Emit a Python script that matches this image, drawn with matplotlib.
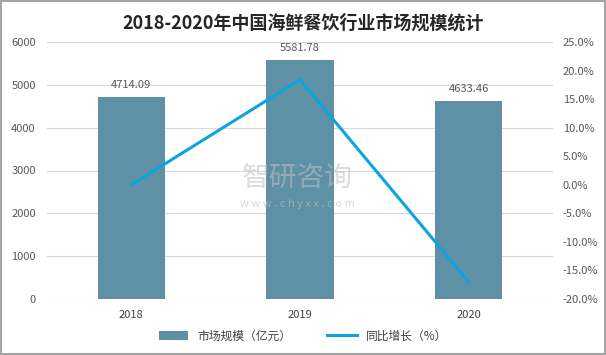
import matplotlib
matplotlib.use("Agg")
import matplotlib.pyplot as plt
from matplotlib.patches import Rectangle
from matplotlib.ticker import FuncFormatter

plt.rcParams['font.family'] = ['Noto Sans CJK SC', 'DejaVu Sans']

years = ['2018', '2019', '2020']
market = [4714.09, 5581.78, 4633.46]
growth = [0.0, 18.4, -17.0]
bar_labels = ['4714.09', '5581.78', '4633.46']

fig = plt.figure(figsize=(6.06, 3.55), dpi=100)
ax = fig.add_axes([47/606, 1-299/355, (553-47)/606, (299-42)/355])
x = list(range(len(years)))
ax.bar(x, market, width=0.40, color='#5E91A5', zorder=2, label='市场规模（亿元）')
ax.set_ylim(0, 6000)
ax.set_xlim(-0.5, 2.5)
ax.set_yticks(range(0, 6001, 1000))
ax.set_xticks(x)
ax.set_xticklabels(years)
ax.grid(axis='y', color='#D9D9D9', linewidth=0.8, zorder=0)
for s in ax.spines.values():
    s.set_visible(False)
ax.tick_params(length=0, labelsize=8, colors='#595959', pad=8)
ax.tick_params(axis='x', colors='#404040')
for xi, v, t in zip(x, market, bar_labels):
    ax.annotate(t, (xi, v), xytext=(0, 5), textcoords='offset points',
                ha='center', va='bottom', fontsize=8, color='#595959')

ax2 = ax.twinx()
ax2.plot(x, growth, color='#0AA5DE', linewidth=2.2, zorder=3, label='同比增长（%）')
ax2.set_ylim(-20, 25)
ax2.set_yticks(range(-20, 26, 5))
ax2.yaxis.set_major_formatter(FuncFormatter(lambda v, p: f'{v:.1f}%'))
for s in ax2.spines.values():
    s.set_visible(False)
ax2.tick_params(length=0, labelsize=8, colors='#595959', pad=7)

fig.text(0.5, 0.935, '2018-2020年中国海鲜餐饮行业市场规模统计', ha='center', va='center',
         fontsize=13, fontweight='bold', color='#262626')

# watermark
fig.text(0.49, 0.5, '智研咨询', ha='center', va='center', fontsize=20,
         color='#C0C0C0', alpha=0.55, zorder=10)
fig.text(0.49, 0.425, 'w w w . c h y x x . c o m', ha='center', va='center', fontsize=8,
         color='#C0C0C0', alpha=0.6, zorder=10)

h1, l1 = ax.get_legend_handles_labels()
h2, l2 = ax2.get_legend_handles_labels()
fig.legend(h1 + h2, l1 + l2, loc='center', bbox_to_anchor=(0.5, 1-336/355), ncol=2,
           frameon=False, fontsize=8.5, handlelength=2.5, columnspacing=3,
           labelcolor='#404040')

fig.add_artist(Rectangle((0.001, 0.002), 0.997, 0.995, transform=fig.transFigure,
                         fill=False, edgecolor='#A6A6A6', linewidth=1.5))
fig.savefig('out.png', dpi=100)
